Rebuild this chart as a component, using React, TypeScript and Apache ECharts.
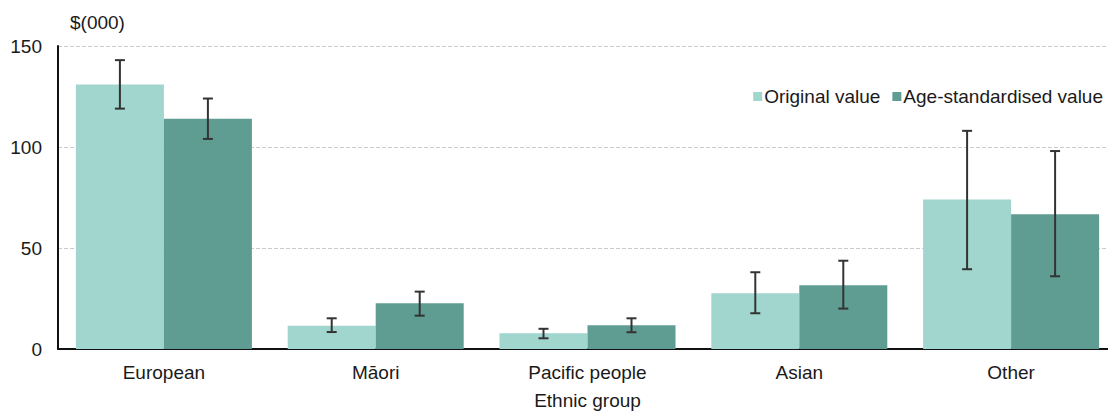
import React, { useEffect, useRef } from "react";
import * as echarts from "echarts";

const categories = ["European", "Māori", "Pacific people", "Asian", "Other"];
const originalValues = [131, 11.5, 7.8, 27.6, 74];
const originalLow = [119, 8.4, 5.3, 17.7, 39.5];
const originalHigh = [143, 15.2, 10, 38, 108];
const ageStdValues = [114, 22.6, 11.7, 31.5, 66.7];
const ageStdLow = [104, 16.5, 8.3, 20, 36];
const ageStdHigh = [124, 28.4, 15.2, 43.7, 98];
const seriesNames = ["Original value", "Age-standardised value"];
const yTicks = { min: 0, max: 150, interval: 50 };

const FONT = "'Liberation Sans', Arial, sans-serif";
const LIGHT = "#a0d6ce";
const DARK = "#5f9d93";
const BAR_W = 88;
const FS = 19;
const TXT = "#1a1a1a";

function errorSeries(low: number[], high: number[], offset: number) {
  return {
    type: "custom",
    silent: true,
    z: 10,
    data: low.map((l, i) => [i, l, high[i]]),
    encode: { x: 0, y: [1, 2] },
    renderItem: (params: any, api: any) => {
      const idx = api.value(0);
      const pLow = api.coord([idx, api.value(1)]);
      const pHigh = api.coord([idx, api.value(2)]);
      const x = pLow[0] + offset;
      const cap = 5;
      const style = { stroke: "#333333", lineWidth: 2 };
      return {
        type: "group",
        children: [
          { type: "line", shape: { x1: x, y1: pLow[1], x2: x, y2: pHigh[1] }, style },
          { type: "line", shape: { x1: x - cap, y1: pHigh[1], x2: x + cap, y2: pHigh[1] }, style },
          { type: "line", shape: { x1: x - cap, y1: pLow[1], x2: x + cap, y2: pLow[1] }, style },
        ],
      };
    },
  };
}

export default function App() {
  const ref = useRef<HTMLDivElement>(null);
  useEffect(() => {
    if (!ref.current) return;
    const chart = echarts.init(ref.current, undefined, { renderer: "svg" });
    chart.setOption({
      animation: false,
      textStyle: { fontFamily: FONT },
      legend: {
        data: seriesNames,
        right: 0,
        top: 82,
        itemWidth: 9,
        itemHeight: 9,
        itemGap: 12,
        icon: "rect",
        textStyle: { fontSize: FS, color: TXT, fontFamily: FONT, padding: [0, 0, 0, -3] },
      },
      grid: { left: 58, top: 46, width: 1059, height: 303, containLabel: false, outerBoundsMode: "none" },
      xAxis: {
        type: "category",
        data: categories,
        name: "Ethnic group",
        nameLocation: "middle",
        nameGap: 42,
        nameTextStyle: { fontSize: FS, color: TXT, fontFamily: FONT },
        axisLine: { lineStyle: { color: "#111", width: 2 } },
        axisTick: { show: false },
        axisLabel: { fontSize: FS, color: TXT, margin: 14, fontFamily: FONT },
      },
      yAxis: {
        type: "value",
        min: yTicks.min,
        max: yTicks.max,
        interval: yTicks.interval,
        name: "$(000)",
        nameLocation: "end",
        nameGap: 14,
        nameTextStyle: { fontSize: FS, color: TXT, align: "left", padding: [0, 0, 0, 12], fontFamily: FONT },
        axisLine: { show: true, lineStyle: { color: "#111", width: 2 } },
        axisTick: { show: false },
        axisLabel: { fontSize: FS, color: TXT, margin: 16, fontFamily: FONT },
        splitLine: { lineStyle: { color: "#cfc8cc", type: "dashed", width: 1 } },
      },
      series: [
        {
          name: seriesNames[0],
          type: "bar",
          data: originalValues,
          barWidth: BAR_W,
          barGap: "0%",
          itemStyle: { color: LIGHT },
        },
        {
          name: seriesNames[1],
          type: "bar",
          data: ageStdValues,
          barWidth: BAR_W,
          barGap: "0%",
          itemStyle: { color: DARK },
        },
        errorSeries(originalLow, originalHigh, -BAR_W / 2),
        errorSeries(ageStdLow, ageStdHigh, BAR_W / 2),
      ],
    });
    return () => chart.dispose();
  }, []);
  return (
    <div
      ref={ref}
      style={{ position: "absolute", left: 0, top: 0, width: 1108, height: 412, background: "#fff" }}
    />
  );
}
